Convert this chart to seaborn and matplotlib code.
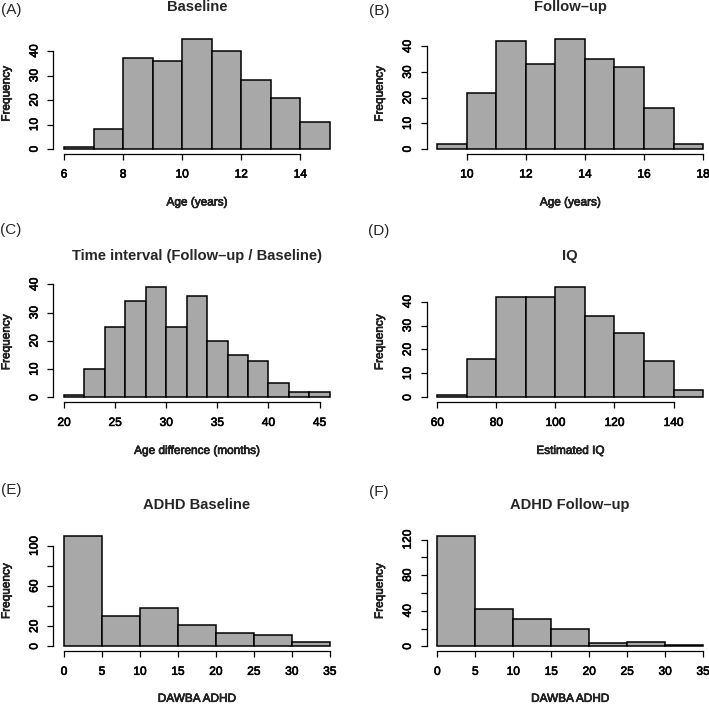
import matplotlib
matplotlib.use("Agg")
import matplotlib.pyplot as plt
import matplotlib.patheffects as pe
import seaborn as sns

sns.set_style("white")
plt.rcParams['font.family'] = ['Liberation Sans', 'DejaVu Sans']

# ---------------- data ----------------
baseline_edges = [6, 7, 8, 9, 10, 11, 12, 13, 14, 15]
baseline_counts = [1, 8, 37, 36, 45, 40, 28, 21, 11]

followup_edges = [9, 10, 11, 12, 13, 14, 15, 16, 17, 18]
followup_counts = [2, 22, 42, 33, 43, 35, 32, 16, 2]

interval_edges = [20, 22, 24, 26, 28, 30, 32, 34, 36, 38, 40, 42, 44, 46]
interval_counts = [1, 10, 25, 34, 39, 25, 36, 20, 15, 13, 5, 2, 2]

iq_edges = [60, 70, 80, 90, 100, 110, 120, 130, 140, 150]
iq_counts = [1, 16, 42, 42, 46, 34, 27, 15, 3]

adhd_base_edges = [0, 5, 10, 15, 20, 25, 30, 35]
adhd_base_counts = [110, 30, 38, 21, 13, 11, 4]

adhd_follow_edges = [0, 5, 10, 15, 20, 25, 30, 35]
adhd_follow_counts = [124, 42, 31, 20, 4, 5, 1]

letters = ["(A)", "(B)", "(C)", "(D)", "(E)", "(F)"]
titles = ["Baseline", "Follow\u2013up", "Time interval (Follow\u2013up / Baseline)",
          "IQ", "ADHD Baseline", "ADHD Follow\u2013up"]
xlabels = ["Age (years)", "Age (years)", "Age difference (months)",
           "Estimated IQ", "DAWBA ADHD", "DAWBA ADHD"]
xticks_list = [[6, 8, 10, 12, 14], [10, 12, 14, 16, 18], [20, 25, 30, 35, 40, 45],
               [60, 80, 100, 120, 140], [0, 5, 10, 15, 20, 25, 30, 35],
               [0, 5, 10, 15, 20, 25, 30, 35]]
yticks_list = [[0, 10, 20, 30, 40], [0, 10, 20, 30, 40], [0, 10, 20, 30, 40],
               [0, 10, 20, 30, 40], [0, 20, 40, 60, 80, 100],
               [0, 20, 40, 60, 80, 100, 120]]
yticklabels_list = [["0", "10", "20", "30", "40"], ["0", "10", "20", "30", "40"],
                    ["0", "10", "20", "30", "40"], ["0", "10", "20", "30", "40"],
                    ["0", "20", "", "60", "", "100"],
                    ["0", "", "40", "", "80", "", "120"]]

edges_list = [baseline_edges, followup_edges, interval_edges, iq_edges,
              adhd_base_edges, adhd_follow_edges]
counts_list = [baseline_counts, followup_counts, interval_counts, iq_counts,
               adhd_base_counts, adhd_follow_counts]

# ---------------- layout ----------------
W, H = 709, 705
fig = plt.figure(figsize=(W / 100, H / 100), dpi=100)

col_left = [53.4, 426.7]
ax_w = 287.0
row_top = [34.3, 282.7, 531.6]
ax_h = 119.2
letter_pos = [(11, 10), (379, 11), (11, 230), (379, 231), (11, 490), (379, 492)]

bar_color = "#A8A8A8"
heavy = [pe.withStroke(linewidth=0.45, foreground="black")]

for i in range(6):
    r, c = divmod(i, 2)
    l = col_left[c] / W
    b = 1 - (row_top[r] + ax_h) / H
    ax = fig.add_axes([l, b, ax_w / W, ax_h / H])
    edges = edges_list[i]
    counts = counts_list[i]
    centers = [(edges[k] + edges[k + 1]) / 2 for k in range(len(counts))]
    sns.histplot(x=centers, weights=counts, bins=edges, ax=ax, color=bar_color,
                 edgecolor="black", linewidth=1.1, alpha=1, shrink=1)
    lo, hi = edges[0], edges[-1]
    span = hi - lo
    ymax = max(counts)
    ax.set_xlim(lo - 0.04 * span, hi + 0.04 * span)
    ax.set_ylim(-0.04 * ymax, 1.04 * ymax)
    xt = xticks_list[i]
    yt = yticks_list[i]
    ax.set_xticks(xt)
    ax.set_xticklabels([str(v) for v in xt], fontsize=8.6)
    ax.set_yticks(yt)
    ax.set_yticklabels(yticklabels_list[i], fontsize=8.6, rotation=90, va="center")
    ax.tick_params(axis="both", direction="out", length=4.3, width=0.9,
                   color="black", labelcolor="black", bottom=True, left=True)
    ax.tick_params(axis="x", pad=6.5)
    ax.tick_params(axis="y", pad=5.0)
    for t in ax.get_xticklabels() + ax.get_yticklabels():
        t.set_path_effects(heavy)
    sns.despine(ax=ax)
    ax.spines["left"].set_bounds(0, yt[-1])
    ax.spines["bottom"].set_bounds(xt[0], xt[-1])
    for s in ("left", "bottom"):
        ax.spines[s].set_linewidth(0.9)
        ax.spines[s].set_color("black")
    xl = ax.set_xlabel(xlabels[i], fontsize=8.5, va="center")
    xl.set_path_effects(heavy)
    ax.xaxis.set_label_coords(0.5, -(49 if r < 2 else 48) / ax_h)
    yl = ax.set_ylabel("Frequency", fontsize=8.5, va="center")
    yl.set_path_effects(heavy)
    ax.yaxis.set_label_coords(-47 / ax_w, 0.5)
    ax.set_title(titles[i], fontsize=10.6, fontweight="bold", y=1 + 27 / ax_h,
                 va="center", pad=0)
    lx, ly = letter_pos[i]
    fig.text(lx / W, 1 - ly / H, letters[i], fontsize=11, ha="center", va="center")

fig.savefig("out.png", dpi=100, facecolor="white")
